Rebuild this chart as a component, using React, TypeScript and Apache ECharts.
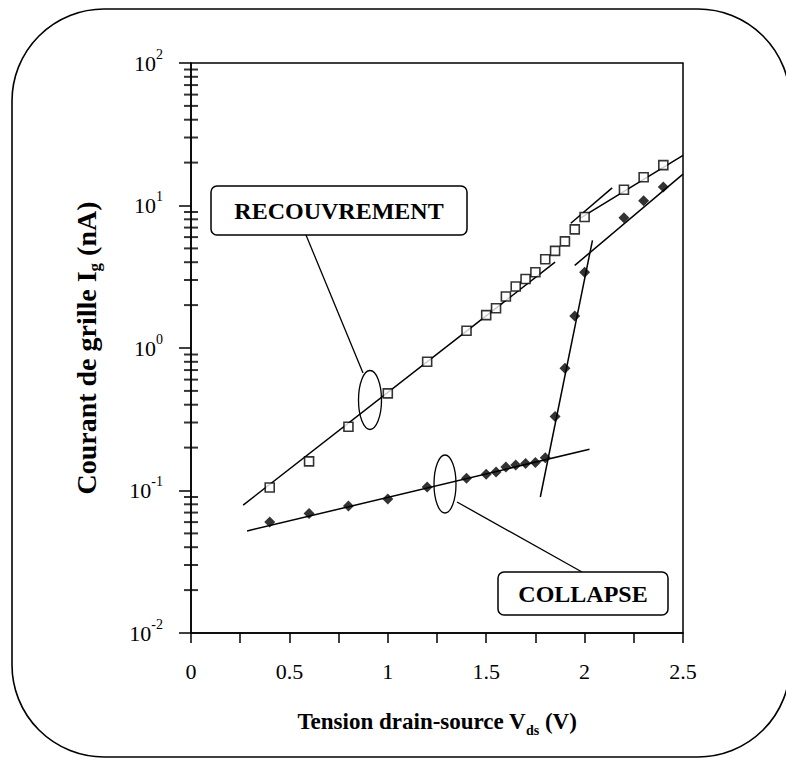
import React, { useEffect, useRef } from "react";
import * as echarts from "echarts";

// Measured points (x: V_ds in V, y: I_g in nA)
const recX = [0.4, 0.6, 0.8, 1.0, 1.2, 1.4, 1.5, 1.55, 1.6, 1.65, 1.7, 1.75, 1.8, 1.85, 1.9, 1.95, 2.0, 2.2, 2.3, 2.4];
const recY = [0.105, 0.16, 0.28, 0.48, 0.8, 1.32, 1.7, 1.9, 2.3, 2.7, 3.05, 3.4, 4.2, 4.8, 5.6, 6.8, 8.3, 12.9, 15.8, 19.2];
const colX = [0.4, 0.6, 0.8, 1.0, 1.2, 1.4, 1.5, 1.55, 1.6, 1.65, 1.7, 1.75, 1.8, 1.85, 1.9, 1.95, 2.0, 2.2, 2.3, 2.4];
const colY = [0.06, 0.069, 0.078, 0.087, 0.106, 0.122, 0.13, 0.135, 0.146, 0.151, 0.155, 0.157, 0.17, 0.33, 0.72, 1.68, 3.4, 8.2, 10.8, 13.5];

// Fitted straight lines (end points)
const recLow = [[0.265, 0.079], [1.85, 4.0]];
const recMid = [[1.93, 7.5], [2.14, 13.3]];
const recHigh = [[1.98, 8.2], [2.5, 22.5]];
const colLow = [[0.285, 0.052], [2.025, 0.195]];
const colSteep = [[1.775, 0.09], [2.04, 5.7]];
const colHigh = [[1.95, 3.8], [2.5, 16.6]];

// Axis ticks
const xTicks = [0, 0.5, 1, 1.5, 2, 2.5];
const yDecades = [0.01, 0.1, 1, 10, 100];
const yMinorTicks: number[] = [];
for (let k = 0; k < yDecades.length - 1; k++) {
  for (let m = 2; m <= 9; m++) yMinorTicks.push(Number((yDecades[k] * m).toPrecision(3)));
}

const FONT = "Liberation Serif, Times New Roman, serif";

export default function App() {
  const ref = useRef<HTMLDivElement>(null);
  useEffect(() => {
    const chart = echarts.init(ref.current!, undefined, { renderer: "svg" });
    const lineSeries = (d: number[][]) => ({
      type: "line",
      data: d,
      symbol: "none",
      lineStyle: { color: "#000", width: 1.5 },
      z: 2,
    });
    chart.setOption({
      animation: false,
      grid: {
        left: 191,
        right: 103,
        top: 63,
        bottom: 127,
        show: true,
        borderColor: "#000",
        borderWidth: 1.5,
      },
      xAxis: {
        type: "value",
        min: xTicks[0],
        max: xTicks[xTicks.length - 1],
        interval: 0.5,
        splitLine: { show: false },
        axisLine: { lineStyle: { color: "#000", width: 1.5 } },
        axisTick: { show: true, inside: false, length: 10, lineStyle: { color: "#000", width: 1.5 } },
        minorTick: { show: true, splitNumber: 2, length: 10, lineStyle: { color: "#000", width: 1.5 } },
        axisLabel: {
          color: "#000",
          fontFamily: FONT,
          fontSize: 22,
          margin: 27,
          formatter: (v: number) => String(v),
        },
        name: "{t|Tension drain-source V}{s|ds}{t| (V)}",
        nameLocation: "middle",
        nameGap: 72,
        nameTextStyle: {
          rich: {
            t: { fontFamily: FONT, fontWeight: "bold", fontSize: 23, color: "#000", lineHeight: 32 },
            s: { fontFamily: FONT, fontWeight: "bold", fontSize: 14, color: "#000", lineHeight: 17, verticalAlign: "bottom" },
          },
        },
      },
      yAxis: {
        type: "log",
        logBase: 10,
        min: yDecades[0],
        max: yDecades[yDecades.length - 1],
        splitLine: { show: false },
        axisLine: { lineStyle: { color: "#000", width: 1.5 } },
        axisTick: { show: true, inside: false, length: 12, lineStyle: { color: "#000", width: 1.5 } },
        axisLabel: {
          color: "#000",
          margin: 28,
          formatter: (v: number) => `{b|10}{s|${Math.round(Math.log10(v))}}`,
          rich: {
            b: { fontFamily: FONT, fontSize: 22, color: "#000", lineHeight: 32 },
            s: { fontFamily: FONT, fontSize: 14, color: "#000", lineHeight: 17, verticalAlign: "top" },
          },
        },
        name: "{t|Courant de grille I}{s|g}{t| (nA)}",
        nameLocation: "middle",
        nameGap: 88,
        nameRotate: 90,
        nameTextStyle: {
          rich: {
            t: { fontFamily: FONT, fontWeight: "bold", fontSize: 28, color: "#000", lineHeight: 34 },
            s: { fontFamily: FONT, fontWeight: "bold", fontSize: 17, color: "#000", lineHeight: 18, verticalAlign: "bottom" },
          },
        },
      },
      series: [
        // Minor log ticks (2..9 per decade) straddling the y axis line
        {
          type: "scatter",
          clip: false,
          data: yMinorTicks.map((v) => [xTicks[0], v]),
          symbol: "rect",
          symbolSize: [14, 2],
          itemStyle: { color: "#000" },
        },
        lineSeries(recLow),
        lineSeries(recMid),
        lineSeries(recHigh),
        lineSeries(colLow),
        lineSeries(colSteep),
        lineSeries(colHigh),
        {
          type: "scatter",
          name: "RECOUVREMENT",
          data: recX.map((x, i) => [x, recY[i]]),
          symbol: "rect",
          symbolSize: 9,
          itemStyle: { color: "#fff", borderColor: "#000", borderWidth: 1.6 },
          z: 3,
        },
        {
          type: "scatter",
          name: "COLLAPSE",
          data: colX.map((x, i) => [x, colY[i]]),
          symbol: "diamond",
          symbolSize: 11,
          itemStyle: { color: "#000" },
          z: 3,
        },
      ],
      graphic: [
        {
          type: "rect",
          shape: { x: 12, y: 9, width: 778, height: 748, r: 92 },
          style: { fill: "none", stroke: "#000", lineWidth: 1.6 },
          silent: true,
        },
        // RECOUVREMENT callout
        {
          type: "line",
          shape: { x1: 306, y1: 235, x2: 363, y2: 373 },
          style: { stroke: "#000", lineWidth: 1.3 },
        },
        {
          type: "ellipse",
          shape: { cx: 370, cy: 400, rx: 11.5, ry: 29.5 },
          style: { fill: "none", stroke: "#000", lineWidth: 1.3 },
        },
        {
          type: "rect",
          shape: { x: 211, y: 186, width: 256, height: 49, r: 6 },
          style: { fill: "#fff", stroke: "#000", lineWidth: 1.5 },
        },
        {
          type: "text",
          x: 339,
          y: 211,
          style: {
            text: "RECOUVREMENT",
            fontFamily: FONT,
            fontWeight: "bold",
            fontSize: 24,
            fill: "#000",
            align: "center",
            verticalAlign: "middle",
          },
        },
        // COLLAPSE callout
        {
          type: "line",
          shape: { x1: 457, y1: 502, x2: 582, y2: 572 },
          style: { stroke: "#000", lineWidth: 1.3 },
        },
        {
          type: "ellipse",
          shape: { cx: 445, cy: 484, rx: 11, ry: 29 },
          style: { fill: "none", stroke: "#000", lineWidth: 1.3 },
        },
        {
          type: "rect",
          shape: { x: 498, y: 572, width: 170, height: 43, r: 6 },
          style: { fill: "#fff", stroke: "#000", lineWidth: 1.5 },
        },
        {
          type: "text",
          x: 583,
          y: 594,
          style: {
            text: "COLLAPSE",
            fontFamily: FONT,
            fontWeight: "bold",
            fontSize: 24,
            fill: "#000",
            align: "center",
            verticalAlign: "middle",
          },
        },
      ],
    });
    return () => chart.dispose();
  }, []);
  return (
    <div
      ref={ref}
      style={{ position: "fixed", left: 0, top: 0, width: 786, height: 760, background: "#fff" }}
    />
  );
}
